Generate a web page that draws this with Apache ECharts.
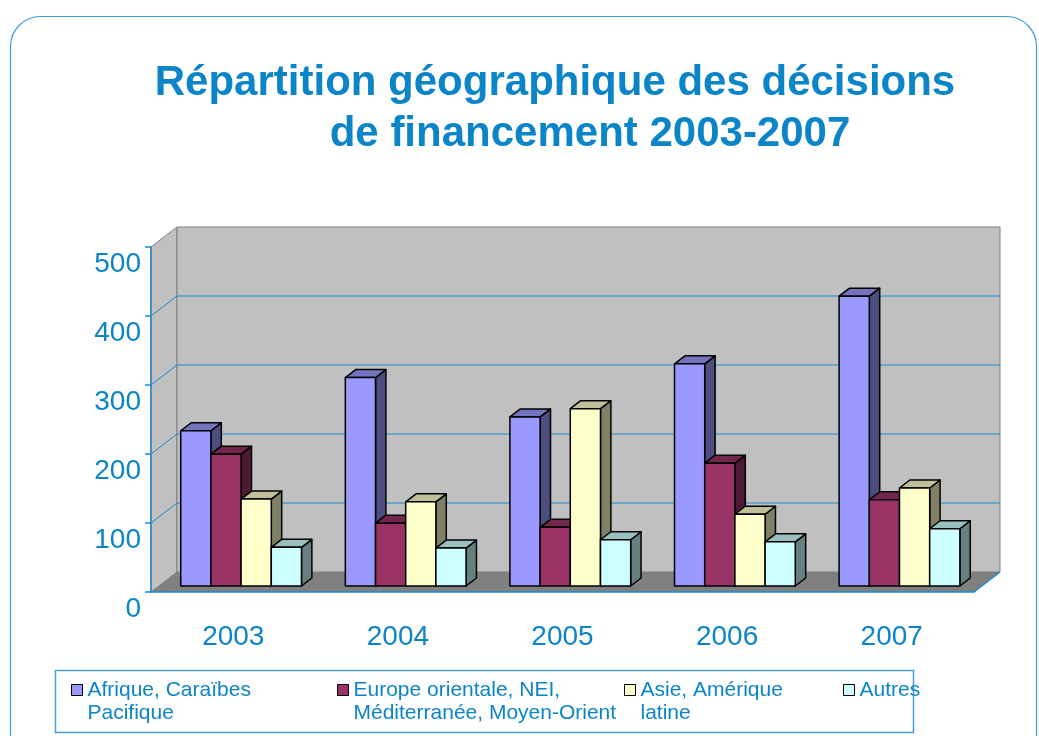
<!DOCTYPE html>
<html>
<head>
<meta charset="utf-8">
<title>Répartition géographique des décisions de financement 2003-2007</title>
<script src="https://cdn.jsdelivr.net/npm/echarts@6/dist/echarts.min.js"></script>
<style>
  html, body { margin: 0; padding: 0; background: #fff; }
  #chart { width: 1039px; height: 736px; }
</style>
</head>
<body>
<div id="chart"></div>
<script>
// data
var years = ["2003", "2004", "2005", "2006", "2007"]
var regions = [
  "Afrique, Caraïbes Pacifique",
  "Europe orientale, NEI, Méditerranée, Moyen-Orient",
  "Asie, Amérique latine",
  "Autres",
]
var legendLabels = [
  "Afrique, Caraïbes\nPacifique",
  "Europe orientale, NEI,\nMéditerranée, Moyen-Orient",
  "Asie, Amérique\nlatine",
  "Autres",
]
var afrique = [225, 302, 245, 322, 420]
var europe = [191, 91, 85, 178, 125]
var asie = [126, 122, 257, 104, 142]
var autres = [56, 55, 67, 64, 83]
var yTicks = [100, 200, 300, 400]

var BLUE = "#0b84c8"
var LINE = "#1a8ad0"
var FONT = "'Liberation Sans', Arial, sans-serif"

// fake 3D: depth of the plot box, bars sit in the middle of it
var DX = 26, DY = -20
var OX = DX * 0.3, OY = DY * 0.3
var BX = DX * 0.4, BY = DY * 0.4
var BAR_FRAC = 0.1834

// front, top, side colours of each series
var faces = [
  ["#9999ff", "#7373bf", "#4d4d80"],
  ["#993366", "#73264d", "#4d1a33"],
  ["#ffffcc", "#bfbf99", "#808066"],
  ["#ccffff", "#99bfbf", "#668080"],
]
var values = [afrique, europe, asie, autres]

function renderWalls(params, api) {
  var cs = params.coordSys
  var l = cs.x, r = cs.x + cs.width, t = cs.y, b = cs.y + cs.height
  return {
    type: "group",
    children: [
      {
        type: "polygon",
        shape: { points: [[l, b], [l, t], [l + DX, t + DY], [l + DX, b + DY]] },
        style: { fill: "#c0c0c0", stroke: "#808080", lineWidth: 1 },
      },
      {
        type: "rect",
        shape: { x: l + DX, y: t + DY, width: cs.width, height: cs.height },
        style: { fill: "#c0c0c0", stroke: "#808080", lineWidth: 1 },
      },
      {
        type: "polygon",
        shape: { points: [[l, b], [r, b], [r + DX, b + DY], [l + DX, b + DY]] },
        style: { fill: "#808080" },
      },
      {
        type: "line",
        shape: { x1: r, y1: b, x2: r + DX, y2: b + DY },
        style: { stroke: LINE, lineWidth: 1.5 },
      },
    ],
  }
}

function renderGridLine(params, api) {
  var cs = params.coordSys
  var l = cs.x, r = cs.x + cs.width
  var y = api.coord([0, api.value(1)])[1]
  return {
    type: "group",
    children: [
      { type: "line", shape: { x1: l, y1: y, x2: l + DX, y2: y + DY }, style: { stroke: LINE, lineWidth: 1 } },
      { type: "line", shape: { x1: l + DX, y1: y + DY, x2: r + DX, y2: y + DY }, style: { stroke: LINE, lineWidth: 1 } },
    ],
  }
}

function barRenderer(idx) {
  var c = faces[idx]
  return function (params, api) {
    var cat = api.value(0)
    var base = api.coord([cat, 0])
    var top = api.coord([cat, api.value(1)])
    var w = api.size([1, 0])[0] * BAR_FRAC
    var x0 = base[0] + OX - 2 * w + idx * w
    var x1 = x0 + w
    var yb = base[1] + OY
    var yt = top[1] + OY
    var st = { stroke: "#000", lineWidth: 1.5, lineJoin: "round" }
    return {
      type: "group",
      children: [
        {
          type: "polygon",
          shape: { points: [[x1, yb], [x1, yt], [x1 + BX, yt + BY], [x1 + BX, yb + BY]] },
          style: Object.assign({ fill: c[2] }, st),
        },
        {
          type: "polygon",
          shape: { points: [[x0, yt], [x1, yt], [x1 + BX, yt + BY], [x0 + BX, yt + BY]] },
          style: Object.assign({ fill: c[1] }, st),
        },
        {
          type: "rect",
          shape: { x: x0, y: yt, width: w, height: yb - yt },
          style: Object.assign({ fill: c[0] }, st),
        },
      ],
    }
  }
}

var series = [
  { type: "custom", name: "walls", renderItem: renderWalls, data: [[0, 0]], silent: true, z: 1 },
  {
    type: "custom", name: "grid", renderItem: renderGridLine, silent: true, z: 1,
    data: yTicks.map(function (v) { return [0, v] }),
  },
]
regions.forEach(function (name, i) {
  series.push({
    type: "custom",
    name: name,
    renderItem: barRenderer(i),
    itemStyle: { color: faces[i][0] },
    encode: { x: 0, y: 1 },
    z: 3,
    data: years.map(function (y, j) { return [j, values[i][j]] }),
  })
})

// the legend icon sits at the middle of its text, so two-line labels get a
// blank line on top to line the icon up with their first line
var legendLeft = [71, 337, 624, 843]
var legends = regions.map(function (name, i) {
  var twoLines = legendLabels[i].indexOf("\n") >= 0
  return {
    data: [name],
    left: legendLeft[i],
    top: twoLines ? 655.5 : 678.5,
    padding: 0,
    icon: "rect",
    itemWidth: 11,
    itemHeight: 11,
    selectedMode: false,
    itemStyle: { borderColor: "#000", borderWidth: 1 },
    textStyle: { color: BLUE, fontSize: 21, lineHeight: 23, fontFamily: FONT },
    formatter: function () { return twoLines ? " \n" + legendLabels[i] : legendLabels[i] },
  }
})

var chart = echarts.init(document.getElementById("chart"))
chart.setOption({
  animation: false,
  backgroundColor: "#fff",
  title: [
    {
      text: "Répartition géographique des décisions",
      left: 555, top: 62, padding: 0, textAlign: "center",
      textStyle: { color: BLUE, fontSize: 42, fontWeight: "bold", fontFamily: FONT },
    },
    {
      text: "de financement 2003-2007",
      left: 590, top: 113, padding: 0, textAlign: "center",
      textStyle: { color: BLUE, fontSize: 42, fontWeight: "bold", fontFamily: FONT },
    },
  ],
  legend: legends,
  grid: { left: 151, top: 247, width: 823, height: 345, containLabel: false, outerBoundsMode: "none" },
  xAxis: {
    type: "category",
    data: years,
    boundaryGap: true,
    z: 10,
    axisLine: { lineStyle: { color: LINE, width: 1.5 } },
    axisTick: { length: 6, lineStyle: { color: LINE, width: 1.5 } },
    axisLabel: { color: BLUE, fontSize: 28, fontFamily: FONT, margin: 31 },
    splitLine: { show: false },
  },
  yAxis: {
    type: "value",
    min: 0,
    max: 500,
    interval: 100,
    z: 10,
    axisLine: { show: true, lineStyle: { color: LINE, width: 1.5 } },
    axisTick: { show: true, length: 6, lineStyle: { color: LINE, width: 1.5 } },
    axisLabel: {
      color: BLUE, fontSize: 28, fontFamily: FONT, margin: 10,
      verticalAlign: "top", padding: [3, 0, 0, 0],
    },
    splitLine: { show: false },
  },
  graphic: [
    {
      type: "rect", silent: true, z: -1,
      shape: { x: 10.5, y: 16.5, width: 1026, height: 800, r: 30 },
      style: { fill: "none", stroke: "#3f9bd8", lineWidth: 1.2 },
    },
    {
      type: "rect", silent: true, z: -1,
      shape: { x: 55.5, y: 670.5, width: 858, height: 62 },
      style: { fill: "none", stroke: "#4aa0d8", lineWidth: 1.5 },
    },
  ],
  series: series,
})
</script>
</body>
</html>
